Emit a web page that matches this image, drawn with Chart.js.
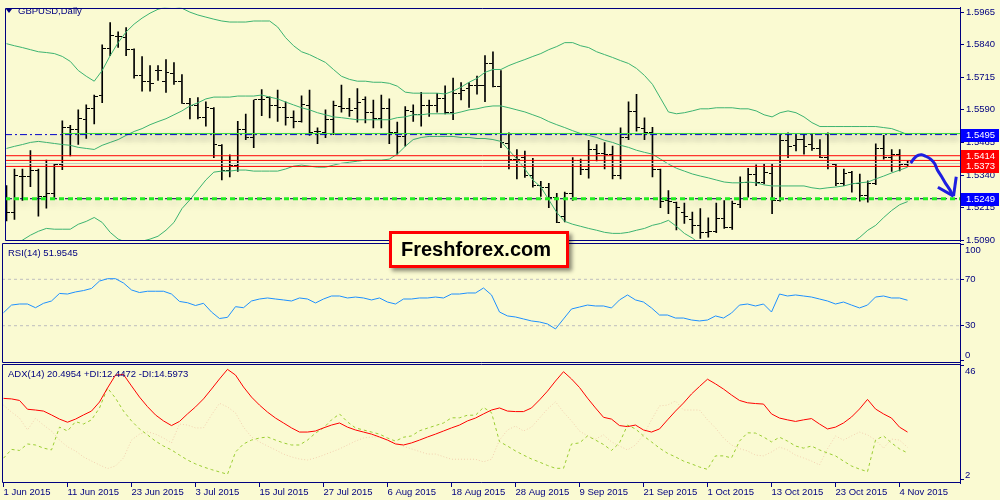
<!DOCTYPE html>
<html><head><meta charset="utf-8">
<script src="https://cdn.jsdelivr.net/npm/chart.js"></script>
<style>
html,body{margin:0;padding:0;background:#FAFAD2;}
#wrap{position:relative;width:1000px;height:500px;overflow:hidden;background:#FAFAD2;font-family:"Liberation Sans",Arial,sans-serif;}
canvas{position:absolute;left:0;top:0;}
.lbl{position:absolute;color:#000080;font-size:9.5px;white-space:nowrap;line-height:11px;}
#tri{position:absolute;left:6px;top:9px;width:0;height:0;border-left:3px solid transparent;border-right:3px solid transparent;border-top:4px solid #000080;}
#wm{position:absolute;left:389px;top:231px;width:165px;height:31px;padding-left:9px;border:3px solid #ff0000;background:#FFFFCC;box-shadow:3px 3px 4px rgba(0,0,0,0.45);font:bold 20px "Liberation Sans",Arial,sans-serif;color:#000;line-height:31px;}
</style></head>
<body><div id="wrap">
<canvas id="cMain" width="1000" height="500"></canvas>
<canvas id="cRsi" width="1000" height="500"></canvas>
<canvas id="cAdx" width="1000" height="500"></canvas>
<div id="tri"></div>
<div class="lbl" style="left:18px;top:5px">GBPUSD,Daily</div>
<div class="lbl" style="left:8px;top:247px">RSI(14) 51.9545</div>
<div class="lbl" style="left:8px;top:368px">ADX(14) 20.4954 +DI:12.4472 -DI:14.5973</div>
<div id="wm">Freshforex.com</div>
</div>
<script>
// ---------- data ----------
const X_LABELS = ['1 Jun 2015','11 Jun 2015','23 Jun 2015','3 Jul 2015','15 Jul 2015','27 Jul 2015','6 Aug 2015','18 Aug 2015','28 Aug 2015','9 Sep 2015','21 Sep 2015','1 Oct 2015','13 Oct 2015','23 Oct 2015','4 Nov 2015'];
const LABEL_EVERY = 8;
const PRICE_TICKS = [1.5090,1.5215,1.5340,1.5465,1.5590,1.5715,1.5840,1.5965];

const OPEN = [1.5268,1.5196,1.5336,1.5336,1.5356,1.5258,1.5268,1.5379,1.5521,1.5514,
1.5552,1.5594,1.5644,1.5824,1.5870,1.5868,1.5821,1.5720,1.5697,1.5741,
1.5697,1.5729,1.5697,1.5613,1.5606,1.5561,1.5596,1.5454,1.5356,1.5375,
1.5514,1.5483,1.5628,1.5637,1.5606,1.5599,1.5559,1.5546,1.5606,1.5508,
1.5505,1.5552,1.5603,1.5596,1.5594,1.5628,1.5578,1.5555,1.5594,1.5505,
1.5489,1.5584,1.5574,1.5606,1.5606,1.5634,1.5578,1.5653,1.5672,1.5682,
1.5685,1.5767,1.5678,1.5460,1.5401,1.5407,1.5337,1.5299,1.5293,1.5252,
1.5181,1.5268,1.5394,1.5363,1.5436,1.5422,1.5420,1.5337,1.5485,1.5584,
1.5518,1.5502,1.5363,1.5242,1.5236,1.5198,1.5169,1.5148,1.5119,1.5122,
1.5173,1.5139,1.5226,1.5312,1.5341,1.5312,1.5344,1.5242,1.5473,1.5454,
1.5476,1.5457,1.5442,1.5409,1.5382,1.5306,1.5350,1.5308,1.5261,1.5306,
1.5441,1.5409,1.5420,1.5382];
const HIGH = [1.5299,1.5363,1.5363,1.5434,1.5363,1.5397,1.5382,1.5548,1.5531,1.5590,
1.5609,1.5647,1.5840,1.5925,1.5889,1.5906,1.5824,1.5794,1.5760,1.5760,
1.5783,1.5771,1.5725,1.5634,1.5637,1.5621,1.5599,1.5457,1.5417,1.5546,
1.5574,1.5628,1.5668,1.5640,1.5666,1.5621,1.5586,1.5644,1.5666,1.5521,
1.5590,1.5624,1.5685,1.5634,1.5672,1.5640,1.5628,1.5647,1.5632,1.5543,
1.5603,1.5609,1.5657,1.5628,1.5653,1.5682,1.5712,1.5695,1.5695,1.5720,
1.5798,1.5813,1.5741,1.5502,1.5438,1.5432,1.5404,1.5316,1.5308,1.5270,
1.5274,1.5407,1.5401,1.5473,1.5457,1.5464,1.5451,1.5521,1.5621,1.5650,
1.5559,1.5523,1.5363,1.5280,1.5236,1.5232,1.5198,1.5211,1.5176,1.5232,
1.5242,1.5240,1.5333,1.5366,1.5379,1.5382,1.5382,1.5495,1.5502,1.5495,
1.5495,1.5498,1.5476,1.5502,1.5382,1.5363,1.5354,1.5344,1.5318,1.5460,
1.5492,1.5438,1.5438,1.5394];
const LOW = [1.5164,1.5170,1.5242,1.5295,1.5182,1.5213,1.5249,1.5360,1.5413,1.5457,
1.5480,1.5536,1.5618,1.5798,1.5830,1.5798,1.5712,1.5662,1.5662,1.5703,
1.5657,1.5688,1.5615,1.5555,1.5555,1.5527,1.5407,1.5321,1.5333,1.5354,
1.5476,1.5445,1.5568,1.5559,1.5546,1.5531,1.5521,1.5543,1.5492,1.5460,
1.5483,1.5495,1.5581,1.5565,1.5543,1.5540,1.5521,1.5521,1.5460,1.5420,
1.5451,1.5546,1.5527,1.5565,1.5581,1.5574,1.5552,1.5628,1.5599,1.5650,
1.5621,1.5678,1.5445,1.5363,1.5325,1.5331,1.5293,1.5258,1.5215,1.5157,
1.5160,1.5242,1.5341,1.5328,1.5394,1.5363,1.5325,1.5325,1.5476,1.5508,
1.5476,1.5333,1.5215,1.5192,1.5129,1.5154,1.5116,1.5097,1.5101,1.5119,
1.5135,1.5131,1.5215,1.5255,1.5299,1.5306,1.5192,1.5240,1.5407,1.5432,
1.5420,1.5434,1.5407,1.5363,1.5299,1.5299,1.5274,1.5240,1.5236,1.5303,
1.5401,1.5354,1.5356,1.5375];
const CLOSE = [1.5196,1.5337,1.5335,1.5359,1.5258,1.5268,1.5379,1.5523,1.5514,1.5555,
1.5594,1.5643,1.5824,1.5874,1.5870,1.5821,1.5720,1.5697,1.5691,1.5741,
1.5735,1.5700,1.5615,1.5606,1.5562,1.5599,1.5457,1.5356,1.5375,1.5514,
1.5483,1.5628,1.5628,1.5606,1.5599,1.5559,1.5546,1.5609,1.5505,1.5508,
1.5552,1.5606,1.5596,1.5586,1.5618,1.5578,1.5556,1.5594,1.5505,1.5489,
1.5586,1.5571,1.5606,1.5606,1.5634,1.5578,1.5653,1.5666,1.5685,1.5682,
1.5767,1.5678,1.5464,1.5401,1.5401,1.5337,1.5299,1.5293,1.5252,1.5157,
1.5270,1.5394,1.5363,1.5436,1.5422,1.5420,1.5337,1.5485,1.5584,1.5521,
1.5502,1.5363,1.5240,1.5240,1.5215,1.5180,1.5148,1.5119,1.5122,1.5173,
1.5139,1.5230,1.5312,1.5341,1.5310,1.5350,1.5242,1.5473,1.5451,1.5476,
1.5451,1.5442,1.5409,1.5385,1.5306,1.5344,1.5308,1.5261,1.5308,1.5441,
1.5409,1.5420,1.5382,1.5384];

const BB_UPPER = [1.5844,1.5836,1.5829,1.5821,1.5813,1.5810,1.5806,1.5795,1.5776,1.5741,
1.5719,1.5700,1.5741,1.5798,1.5848,1.5889,1.5919,1.5942,1.5961,1.5976,
1.5984,1.5988,1.5980,1.5965,1.5954,1.5946,1.5938,1.5931,1.5927,1.5927,
1.5927,1.5931,1.5931,1.5931,1.5908,1.5867,1.5836,1.5813,1.5802,1.5787,
1.5772,1.5745,1.5719,1.5707,1.5700,1.5700,1.5696,1.5696,1.5692,1.5681,
1.5658,1.5654,1.5654,1.5654,1.5654,1.5651,1.5662,1.5677,1.5696,1.5711,
1.5734,1.5745,1.5745,1.5760,1.5772,1.5783,1.5795,1.5806,1.5821,1.5833,
1.5848,1.5848,1.5836,1.5829,1.5813,1.5802,1.5791,1.5779,1.5768,1.5749,
1.5722,1.5688,1.5635,1.5582,1.5575,1.5579,1.5586,1.5594,1.5594,1.5598,
1.5598,1.5598,1.5594,1.5594,1.5586,1.5571,1.5563,1.5579,1.5586,1.5579,
1.5563,1.5541,1.5526,1.5526,1.5526,1.5526,1.5526,1.5526,1.5526,1.5526,
1.5522,1.5518,1.5507,1.5495];
const BB_MIDDLE = [1.5442,1.5450,1.5457,1.5465,1.5469,1.5465,1.5461,1.5457,1.5454,1.5446,
1.5442,1.5438,1.5454,1.5465,1.5476,1.5492,1.5507,1.5518,1.5533,1.5545,
1.5556,1.5571,1.5586,1.5605,1.5617,1.5632,1.5639,1.5639,1.5639,1.5643,
1.5643,1.5643,1.5647,1.5639,1.5632,1.5620,1.5609,1.5598,1.5590,1.5579,
1.5571,1.5563,1.5560,1.5556,1.5552,1.5552,1.5552,1.5552,1.5552,1.5560,
1.5563,1.5571,1.5571,1.5575,1.5575,1.5575,1.5575,1.5582,1.5590,1.5594,
1.5601,1.5605,1.5605,1.5598,1.5590,1.5582,1.5571,1.5560,1.5545,1.5533,
1.5522,1.5510,1.5499,1.5492,1.5484,1.5473,1.5465,1.5454,1.5446,1.5435,
1.5427,1.5420,1.5401,1.5382,1.5366,1.5355,1.5344,1.5336,1.5329,1.5321,
1.5313,1.5310,1.5310,1.5313,1.5310,1.5302,1.5298,1.5298,1.5298,1.5298,
1.5298,1.5291,1.5287,1.5291,1.5294,1.5298,1.5306,1.5310,1.5313,1.5325,
1.5336,1.5348,1.5359,1.5370];
const BB_LOWER = [1.5048,1.5067,1.5090,1.5109,1.5124,1.5135,1.5132,1.5132,1.5132,1.5151,
1.5162,1.5177,1.5158,1.5120,1.5094,1.5082,1.5082,1.5086,1.5094,1.5105,
1.5128,1.5158,1.5211,1.5245,1.5283,1.5321,1.5351,1.5355,1.5355,1.5359,
1.5359,1.5355,1.5355,1.5355,1.5355,1.5363,1.5374,1.5378,1.5374,1.5370,
1.5370,1.5378,1.5385,1.5389,1.5393,1.5397,1.5397,1.5397,1.5401,1.5420,
1.5450,1.5476,1.5484,1.5488,1.5488,1.5488,1.5488,1.5484,1.5484,1.5480,
1.5480,1.5476,1.5469,1.5435,1.5401,1.5363,1.5321,1.5294,1.5245,1.5196,
1.5162,1.5151,1.5143,1.5135,1.5128,1.5120,1.5116,1.5116,1.5120,1.5128,
1.5135,1.5147,1.5154,1.5166,1.5143,1.5116,1.5098,1.5075,1.5060,1.5044,
1.5029,1.5022,1.5025,1.5029,1.5033,1.5033,1.5033,1.5018,1.5010,1.5018,
1.5033,1.5040,1.5048,1.5056,1.5063,1.5071,1.5079,1.5101,1.5128,1.5147,
1.5177,1.5204,1.5226,1.5238];

const LEVEL_RESIST = 1.5495;      // blue dash-dot
const LEVEL_RESIST_GREEN = 1.5499; // green line
const GREEN_FROM_BAR = 7;
const LEVEL_SUPPORT = 1.5249;
const RED_LEVELS = [1.5414, 1.5396, 1.5373];
const LEVEL_TAGS = [[1.5495,'#0000FF'],[1.5414,'#FF0000'],[1.5373,'#FF0000'],[1.5249,'#0000FF']];

const ARROW_X = [113.375,113.875,114.375,114.75,115.25,115.875,116.375,116.75,117.25,117.75,118.25,118.625,118.75];
const ARROW_P = [1.5386,1.5406,1.5416,1.5418,1.5412,1.5401,1.5384,1.5358,1.5334,1.5308,1.5285,1.5264,1.5259];
const ARROW_WING_L_X = [116.79,118.75], ARROW_WING_L_P = [1.5293,1.5259];
const ARROW_WING_R_X = [119.09,118.75], ARROW_WING_R_P = [1.5333,1.5259];

const RSI = [41.2,47.8,48.7,48.7,45.5,49.3,51.3,57.8,57.3,59.1,
60.3,62.1,68.5,70.5,70.5,66.8,60.8,58.6,59.7,59.7,
59.7,57.3,50.9,49.8,47.4,49.3,41.8,36.2,37.2,46.4,
45.5,51.3,53.0,53.9,53.0,52.2,51.3,53.9,53.0,49.6,
53.0,55.6,55.6,53.9,54.7,53.9,52.2,53.9,50.4,48.7,
53.0,53.0,53.9,53.9,54.7,53.9,57.3,57.3,58.2,58.2,
62.5,56.5,41.8,38.4,37.5,35.8,34.1,33.2,31.5,27.2,
35.8,44.4,46.1,47.8,47.0,47.0,45.3,52.2,56.5,52.2,
50.4,45.3,39.2,39.2,36.6,36.6,34.9,34.1,34.9,38.4,
36.6,40.9,47.8,48.7,47.0,48.7,41.8,57.3,55.6,56.5,
55.6,54.7,53.0,51.3,48.7,50.4,47.8,45.3,47.8,54.7,
55.6,53.9,53.9,51.9545];
const RSI_LEVELS = [70, 30];
const RSI_TICKS = [100, 70, 30, 0];

const ADX = [33.5,33.3,32.7,29.3,29.0,28.6,27.1,25.5,24.3,25.5,
27.1,28.6,32.1,37.5,42.5,42.7,38.3,34.0,30.3,27.1,
24.8,23.0,24.6,27.5,30.2,33.3,37.1,41.0,44.7,42.5,
37.9,34.0,30.9,28.2,25.9,24.0,22.1,20.5,20.5,20.9,
22.1,23.2,24.0,22.4,21.3,20.5,19.7,18.6,17.4,15.9,
15.5,16.3,17.4,18.6,19.7,20.9,22.1,23.2,24.8,25.9,
27.5,29.0,29.8,28.6,28.4,28.4,29.8,32.9,36.3,40.2,
43.8,41.0,37.7,33.6,29.8,26.2,25.5,23.0,22.6,23.2,
21.3,20.5,21.7,25.2,28.6,31.7,35.2,38.1,40.9,39.1,
37.1,34.8,32.7,31.8,31.5,31.3,27.5,25.9,25.2,24.6,
25.2,25.7,23.6,21.7,22.4,24.0,26.3,29.4,33.1,29.4,
27.5,25.9,22.4,20.4954];
const PLUS_DI = [10.4,13.8,13.4,15.9,15.5,14.3,13.6,22.4,20.9,24.5,
23.6,25.2,29.8,37.5,33.6,28.6,24.8,21.7,19.4,17.0,
15.1,13.6,11.6,9.7,8.2,7.0,6.0,5.1,4.2,12.8,
15.9,17.4,18.2,18.6,17.4,16.3,15.5,15.5,17.4,20.1,
22.1,25.2,27.5,24.4,22.1,21.3,20.5,19.7,18.2,17.0,
18.5,19.0,21.0,22.0,23.0,24.0,26.0,26.0,27.0,27.0,
30.0,28.0,16.8,15.1,13.2,11.6,10.1,8.9,7.6,6.5,
6.5,15.9,16.3,19.0,17.4,15.7,13.4,16.3,23.2,21.7,
19.0,16.7,14.3,12.3,10.9,9.3,8.2,7.0,6.1,11.3,
11.3,10.5,17.0,20.2,20.1,18.6,16.7,18.5,17.0,15.1,
14.3,15.1,13.6,12.4,11.3,9.3,7.4,6.2,5.2,17.4,
19.0,16.3,14.0,12.4472];
const MINUS_DI = [30.9,28.2,25.9,21.3,25.8,23.2,20.9,17.4,14.8,13.2,
10.9,9.3,7.8,6.4,7.4,10.5,17.4,19.7,20.6,19.7,
18.2,16.3,23.6,23.2,22.1,22.1,27.1,31.6,30.2,27.9,
22.4,18.6,16.7,15.1,13.6,12.0,10.9,10.1,9.7,10.5,
11.6,12.8,14.0,15.5,17.0,18.2,18.6,18.6,17.4,16.3,
15.0,14.0,13.0,12.0,12.0,11.0,10.0,10.0,10.0,10.0,
9.0,10.0,17.4,21.3,22.8,20.9,22.4,25.9,29.4,32.2,
28.2,24.8,20.9,19.0,17.8,19.4,16.7,15.1,13.6,15.5,
19.4,25.2,30.6,30.9,32.5,29.0,29.0,29.0,25.2,22.1,
18.2,15.5,14.1,13.2,11.6,11.3,12.8,14.7,13.6,11.6,
10.5,9.3,7.8,14.0,19.0,17.4,19.0,20.5,19.4,17.4,
14.3,17.8,17.4,14.5973];
const ADX_TICKS = [46, 2];

// ---------- chart setup ----------
const NAVY = '#000080';
const FONT = '"Liberation Sans", Arial, sans-serif';
Chart.defaults.font.family = FONT;
Chart.defaults.font.size = 9.5;
Chart.defaults.color = NAVY;

const X_MIN = -0.1875, X_MAX = 119.5625;
const MAIN_MIN = 1.508674, MAIN_MAX = 1.598205;
const RSI_MIN = -2.16, RSI_MAX = 101.29;
const ADX_MIN = 0.83, ADX_MAX = 46.77;
const idx = OPEN.map((_, i) => i);
const pts = arr => arr.map((v, i) => ({x: i, y: v}));
const xy = (xs, ys) => xs.map((x, i) => ({x: x, y: ys[i]}));

function tickImg(side) {
  const c = document.createElement('canvas');
  c.width = 7; c.height = 1;
  const g = c.getContext('2d');
  g.fillStyle = '#000';
  if (side === 'left') g.fillRect(0, 0, 3, 1); else g.fillRect(4, 0, 3, 1);
  return c;
}
function hline(v, color, width, dash, x0, extra) {
  return Object.assign({type: 'line', data: [{x: x0, y: v}, {x: X_MAX, y: v}], borderColor: color,
    borderWidth: width, borderDash: dash, pointRadius: 0, order: 3}, extra || {});
}
const framePlugin = {
  id: 'frame',
  afterDraw(chart) {
    const a = chart.chartArea, ctx = chart.ctx;
    const l = Math.round(a.left) + 0.5, t = Math.round(a.top) + 0.5, b = Math.round(a.bottom) - 0.5, r = Math.round(a.right);
    ctx.save(); ctx.strokeStyle = NAVY; ctx.lineWidth = 1;
    ctx.beginPath(); ctx.moveTo(r, t); ctx.lineTo(l, t); ctx.lineTo(l, b); ctx.lineTo(r, b); ctx.stroke();
    ctx.restore();
  }
};
const shadowPlugin = {
  id: 'shadow',
  beforeDatasetDraw(chart, args) {
    if (chart.data.datasets[args.index].shadow) {
      const ctx = chart.ctx; ctx.save();
      ctx.shadowColor = 'rgba(70,70,70,0.55)'; ctx.shadowBlur = 6; ctx.shadowOffsetY = 4;
    }
  },
  afterDatasetDraw(chart, args) {
    if (chart.data.datasets[args.index].shadow) chart.ctx.restore();
  }
};
function sideLabels(values) {
  return {
    id: 'side',
    afterDraw(chart) {
      const s = chart.scales.y, a = chart.chartArea, ctx = chart.ctx;
      ctx.save(); ctx.fillStyle = NAVY; ctx.font = '9.5px ' + FONT; ctx.textBaseline = 'middle';
      values.forEach(v => {
        let y = s.getPixelForValue(v);
        y = Math.min(Math.max(y, a.top + 7.5), a.bottom - 7.5);
        ctx.fillText(String(v), 965, y);
      });
      ctx.restore();
    }
  };
}
const tagPlugin = {
  id: 'tags',
  afterDraw(chart) {
    const s = chart.scales.y, ctx = chart.ctx;
    ctx.save(); ctx.font = '9.5px ' + FONT; ctx.textBaseline = 'middle';
    LEVEL_TAGS.forEach(([v, c]) => {
      const y = s.getPixelForValue(v);
      ctx.fillStyle = c; ctx.fillRect(961, Math.round(y) - 6, 38, 13);
    });
    LEVEL_TAGS.forEach(([v, c]) => {
      const y = s.getPixelForValue(v);
      ctx.fillStyle = '#FFFFFF'; ctx.fillText(v.toFixed(4), 966, Math.round(y) + 0.5);
    });
    ctx.restore();
  }
};
function yRight(min, max, ticks, showLabels, cb) {
  return {
    type: 'linear', position: 'right', min: min, max: max,
    afterBuildTicks: s => { s.ticks = ticks.map(v => ({value: v})); },
    afterFit: s => { s.width = 40; },
    border: {display: true, color: NAVY, width: 1},
    grid: {display: true, drawOnChartArea: false, drawTicks: true, tickLength: 4, color: NAVY},
    ticks: {display: showLabels, padding: 2, color: NAVY, callback: cb}
  };
}
const xHidden = {type: 'linear', min: X_MIN, max: X_MAX, offset: false, display: false};
const common = {responsive: false, animation: false, events: [], devicePixelRatio: 1,
  plugins: {legend: {display: false}, tooltip: {enabled: false}}};

// Main price chart
new Chart(document.getElementById('cMain'), {
  type: 'bar',
  data: {datasets: [
    {type: 'line', data: xy(ARROW_X, ARROW_P), borderColor: '#1E1EE0', borderWidth: 3, pointRadius: 0, tension: 0.4, order: 0},
    {type: 'line', data: xy(ARROW_WING_L_X, ARROW_WING_L_P), borderColor: '#1E1EE0', borderWidth: 3, pointRadius: 0, order: 0},
    {type: 'line', data: xy(ARROW_WING_R_X, ARROW_WING_R_P), borderColor: '#1E1EE0', borderWidth: 3, pointRadius: 0, order: 0},
    hline(LEVEL_SUPPORT, '#22EE22', 3, [5, 4], X_MIN, {order: 1}),
    hline(LEVEL_SUPPORT, '#000050', 1, [7, 3, 2, 3], X_MIN, {order: 2, shadow: true}),
    hline(LEVEL_RESIST, '#0000C8', 1, [7, 3, 2, 3], X_MIN, {order: 2, shadow: true}),
    hline(LEVEL_RESIST_GREEN, '#33DD33', 1, [], GREEN_FROM_BAR, {order: 2, shadow: true}),
    hline(RED_LEVELS[0], '#FF0000', 1, [], X_MIN),
    hline(RED_LEVELS[1], '#FF0000', 1, [], X_MIN),
    hline(RED_LEVELS[2], '#FF0000', 1, [], X_MIN),
    hline(CLOSE[CLOSE.length - 1], '#C8C8C8', 1, [], X_MIN, {order: 4}),
    {type: 'line', data: pts(BB_UPPER), borderColor: '#3CB371', borderWidth: 1, pointRadius: 0, order: 8},
    {type: 'line', data: pts(BB_MIDDLE), borderColor: '#3CB371', borderWidth: 1, pointRadius: 0, order: 8},
    {type: 'line', data: pts(BB_LOWER), borderColor: '#3CB371', borderWidth: 1, pointRadius: 0, order: 8},
    {type: 'line', showLine: false, data: pts(OPEN), pointStyle: tickImg('left'), pointRadius: 1, order: 10},
    {type: 'line', showLine: false, data: pts(CLOSE), pointStyle: tickImg('right'), pointRadius: 1, order: 10},
    {type: 'bar', data: idx.map(i => ({x: i, y: [LOW[i], HIGH[i]]})), backgroundColor: '#000000',
      borderWidth: 0, barThickness: 1, grouped: false, order: 11}
  ]},
  options: Object.assign({}, common, {
    layout: {padding: {left: 2, top: 2, right: 0, bottom: 259}},
    scales: {x: xHidden, y: yRight(MAIN_MIN, MAIN_MAX, PRICE_TICKS, true, v => Number(v).toFixed(4))}
  }),
  plugins: [framePlugin, shadowPlugin, tagPlugin]
});

// RSI
new Chart(document.getElementById('cRsi'), {
  type: 'line',
  data: {datasets: [
    {data: pts(RSI), borderColor: '#1E90FF', borderWidth: 1, pointRadius: 0, order: 0},
    hline(RSI_LEVELS[0], '#BEBEBE', 1, [3, 3], X_MIN),
    hline(RSI_LEVELS[1], '#BEBEBE', 1, [3, 3], X_MIN)
  ]},
  options: Object.assign({}, common, {
    layout: {padding: {left: 2, top: 243, right: 0, bottom: 137}},
    scales: {x: xHidden, y: yRight(RSI_MIN, RSI_MAX, RSI_TICKS, false)}
  }),
  plugins: [framePlugin, sideLabels(RSI_TICKS)]
});

// ADX
new Chart(document.getElementById('cAdx'), {
  type: 'line',
  data: {datasets: [
    {data: pts(ADX), borderColor: '#FF0000', borderWidth: 1, pointRadius: 0, order: 0},
    {data: pts(PLUS_DI), borderColor: '#9ACD32', borderWidth: 1, borderDash: [3, 3], pointRadius: 0, order: 1},
    {data: pts(MINUS_DI), borderColor: '#F2D0B0', borderWidth: 1, borderDash: [1, 2], pointRadius: 0, order: 2}
  ]},
  options: Object.assign({}, common, {
    layout: {padding: {left: 2, top: 364, right: 0, bottom: 0}},
    scales: {
      x: {type: 'linear', min: X_MIN, max: X_MAX, offset: false, position: 'bottom',
        afterBuildTicks: s => { s.ticks = X_LABELS.map((_, k) => ({value: k * LABEL_EVERY})); },
        afterFit: s => { s.height = 17; },
        border: {display: false},
        grid: {display: true, drawOnChartArea: false, drawTicks: true, tickLength: 4, color: NAVY},
        ticks: {autoSkip: false, maxRotation: 0, minRotation: 0, align: 'start', padding: 0, color: NAVY,
          callback: (v, i) => X_LABELS[i]}},
      y: yRight(ADX_MIN, ADX_MAX, ADX_TICKS, false)
    }
  }),
  plugins: [framePlugin, sideLabels(ADX_TICKS)]
});
</script>
</body></html>
